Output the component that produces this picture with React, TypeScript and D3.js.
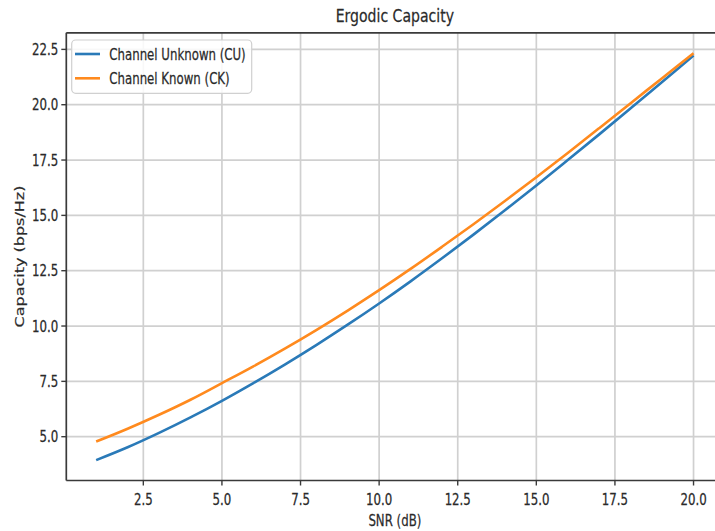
import React from "react";
import * as d3 from "d3";

// ---- data ----
const snrDb = [1, 2, 3, 4, 5, 6, 7, 8, 9, 10, 11, 12, 13, 14, 15, 16, 17, 18, 19, 20];
const capacityCU = [3.94, 4.52, 5.17, 5.87, 6.62, 7.42, 8.26, 9.14, 10.06, 11.02, 12.02, 13.06, 14.13, 15.23, 16.35, 17.5, 18.66, 19.84, 21.03, 22.22];
const capacityCK = [4.78, 5.36, 5.99, 6.67, 7.42, 8.18, 8.98, 9.82, 10.7, 11.62, 12.58, 13.58, 14.6, 15.65, 16.72, 17.82, 18.94, 20.07, 21.2, 22.33];
const xTicks = [2.5, 5, 7.5, 10, 12.5, 15, 17.5, 20];
const yTicks = [5, 7.5, 10, 12.5, 15, 17.5, 20, 22.5];
const seriesNames = ["Channel Unknown (CU)", "Channel Known (CK)"];
const seriesColors = ["#2a7ab8", "#ff8a1e"];
const titleText = "Ergodic Capacity";
const xLabel = "SNR (dB)";
const yLabel = "Capacity (bps/Hz)";

const W = 715;
const H = 531;
const left = 66.3;
const right = 723.4;
const top = 32.8;
const bottom = 480.5;
const SQ = 0.76; // horizontal squeeze of the reference image
const FONT = "'DejaVu Sans', sans-serif";

function pad(lo: number, hi: number) {
  const m = (hi - lo) * 0.05;
  return [lo - m, hi + m];
}

export default function App() {
  const allY = [...capacityCU, ...capacityCK];
  const x = d3.scaleLinear().domain(pad(d3.min(snrDb)!, d3.max(snrDb)!)).range([left, right]);
  const y = d3.scaleLinear().domain(pad(d3.min(allY)!, d3.max(allY)!)).range([bottom, top]);
  const line = d3
    .line<number>()
    .x((_, i) => x(snrDb[i]))
    .y((d) => y(d))
    .curve(d3.curveCatmullRom.alpha(0.5));
  const series = [capacityCU, capacityCK];

  const squeezedText = (
    tx: number,
    ty: number,
    txt: string,
    size: number,
    anchor: string,
    key?: string
  ) => (
    <text
      key={key}
      transform={`translate(${tx},${ty}) scale(${SQ},1)`}
      fontSize={size}
      fontFamily={FONT}
      textAnchor={anchor}
      fill="#2a2a2a"
      stroke="#2a2a2a"
      strokeWidth={0.25}
    >
      {txt}
    </text>
  );

  return (
    <svg
      width={W}
      height={H}
      style={{ position: "absolute", left: 0, top: 0, display: "block", background: "#fff" }}
    >
      <defs>
        <clipPath id="plot">
          <rect x={left} y={top} width={right - left} height={bottom - top} />
        </clipPath>
      </defs>
      <rect x={0} y={0} width={W} height={H} fill="#fff" />
      {/* grid */}
      <g stroke="#d0d0d0" strokeWidth={1.7}>
        {xTicks.map((t) => (
          <line key={"gx" + t} x1={x(t)} x2={x(t)} y1={top} y2={bottom} />
        ))}
        {yTicks.map((t) => (
          <line key={"gy" + t} x1={left} x2={right} y1={y(t)} y2={y(t)} />
        ))}
      </g>
      {/* series */}
      <g clipPath="url(#plot)" fill="none">
        {series.map((s, i) => (
          <path key={i} d={line(s)!} stroke={seriesColors[i]} strokeWidth={2.6} strokeLinejoin="round" strokeLinecap="butt" />
        ))}
      </g>
      {/* spines */}
      <g stroke="#3a3a3a" strokeWidth={1.7} fill="none">
        <line x1={left} x2={left} y1={top} y2={bottom} />
        <line x1={left} x2={right} y1={bottom} y2={bottom} />
        <line x1={left} x2={right} y1={top} y2={top} />
        <line x1={right} x2={right} y1={top} y2={bottom} />
      </g>
      {/* ticks */}
      <g stroke="#3a3a3a" strokeWidth={1.4}>
        {xTicks.map((t) => (
          <line key={"tx" + t} x1={x(t)} x2={x(t)} y1={bottom} y2={bottom + 5} />
        ))}
        {yTicks.map((t) => (
          <line key={"ty" + t} x1={left - 5} x2={left} y1={y(t)} y2={y(t)} />
        ))}
      </g>
      {xTicks.map((t) => squeezedText(x(t), bottom + 24.5, t.toFixed(1), 15.5, "middle", "lx" + t))}
      {yTicks.map((t) => squeezedText(left - 8, y(t) + 5.6, t.toFixed(1), 15.5, "end", "ly" + t))}
      {/* title & labels */}
      {squeezedText((left + right) / 2, 21.7, titleText, 18.5, "middle")}
      {squeezedText((left + right) / 2, 526, xLabel, 15.5, "middle")}
      <text
        transform={`translate(24,256.5) rotate(-90) scale(1,${SQ})`}
        fontSize={16}
        fontFamily={FONT}
        textAnchor="middle"
        fill="#2a2a2a"
        stroke="#2a2a2a"
        strokeWidth={0.25}
      >
        {yLabel}
      </text>
      {/* legend */}
      <rect x={71.7} y={40} width={180} height={53.3} rx={4} fill="#fff" fillOpacity={0.85} stroke="#d0d0d0" strokeWidth={1.2} />
      {seriesNames.map((n, i) => {
        const ly = 54 + i * 24.3;
        return (
          <g key={"lg" + i}>
            <line x1={75} x2={100} y1={ly} y2={ly} stroke={seriesColors[i]} strokeWidth={2.6} />
            {squeezedText(109.3, ly + 5.6, n, 15.5, "start")}
          </g>
        );
      })}
    </svg>
  );
}
